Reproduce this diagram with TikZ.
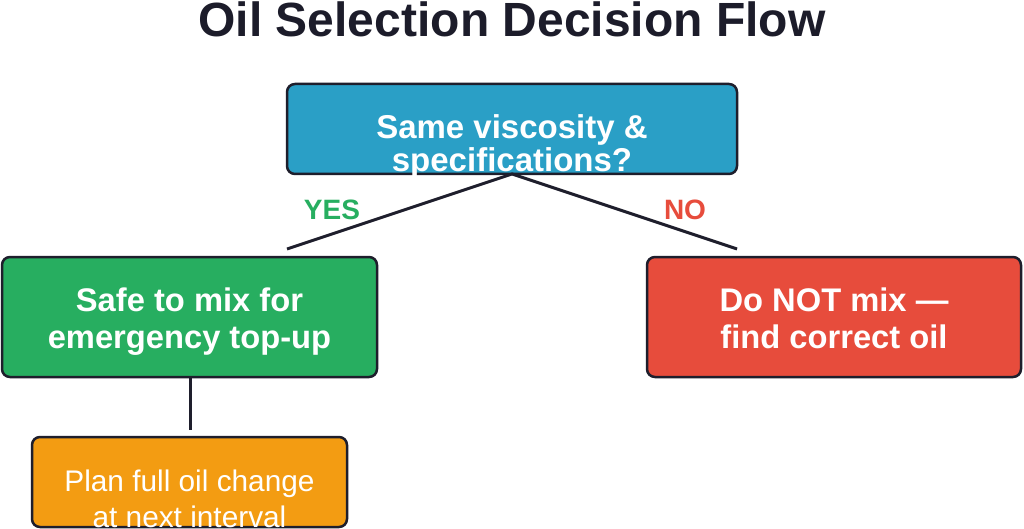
\documentclass[tikz,border=0pt]{standalone}
\usepackage{fontspec}
\setmainfont{Liberation Sans}
\definecolor{edge}{HTML}{1E1E2C}
\definecolor{titlec}{HTML}{1C1C2A}
\definecolor{qblue}{HTML}{2A9FC6}
\definecolor{yesgreen}{HTML}{27AE60}
\definecolor{nored}{HTML}{E74C3C}
\definecolor{planorange}{HTML}{F39C12}
\begin{document}
\begin{tikzpicture}[x=1pt,y=-1pt,
  box/.style={draw=edge, line width=2.5pt, rounded corners=8pt, inner sep=0pt},
  btxt/.style={text=white, font=\bfseries\fontsize{32.7}{36.5}\selectfont, align=center, anchor=base, inner sep=0pt},
  conn/.style={draw=edge, line width=3pt}]
\useasboundingbox (0,0) rectangle (1024,529);
\fill[white] (0,0) rectangle (1024,529);
\node[anchor=base, text=titlec, font=\bfseries\fontsize{48}{58}\selectfont, inner sep=0pt] (title) at (512,37) {Oil Selection Decision Flow};
% boxes
\node[box, fill=qblue, minimum width=450pt, minimum height=90pt] (q) at (512,129) {};
\node[box, fill=yesgreen, minimum width=375pt, minimum height=120pt] (yes) at (189.5,317) {};
\node[box, fill=nored, minimum width=374pt, minimum height=120pt] (no) at (834,317) {};
\node[box, fill=planorange, minimum width=315pt, minimum height=90pt] (plan) at (189.5,482) {};
% connectors
\coordinate (qs) at (512,174);
\coordinate (yend) at (287,249);
\coordinate (nend) at (737,249);
\coordinate (pend) at (190,430);
\draw[conn] (yend) -- (qs) -- (nend);
\draw[conn] (yes.south -| pend) -- (pend);
% labels
\node[anchor=base, text=yesgreen, font=\bfseries\fontsize{28}{30}\selectfont, inner sep=0pt] (yl) at (332,220) {YES};
\node[anchor=base, text=nored, font=\bfseries\fontsize{28}{30}\selectfont, inner sep=0pt] (nl) at (685,220) {NO};
% texts
\node[btxt, font=\bfseries\fontsize{33}{33}\selectfont] (qt1) at (512,139) {Same viscosity \&};
\node[btxt, font=\bfseries\fontsize{33}{33}\selectfont] (qt2) at (512,172) {specifications?};
\node[btxt] (yt1) at (189.5,311.5) {Safe to mix for};
\node[btxt] (yt2) at (189.5,348) {emergency top-up};
\node[btxt] (nt1) at (834,311.5) {Do NOT mix —};
\node[btxt] (nt2) at (834,348) {find correct oil};
\node[btxt, font=\fontsize{29.8}{36}\selectfont] (pt1) at (189.5,491) {Plan full oil change};
\node[btxt, font=\fontsize{29.8}{36}\selectfont] (pt2) at (189.5,527) {at next interval};
\end{tikzpicture}
\end{document}
